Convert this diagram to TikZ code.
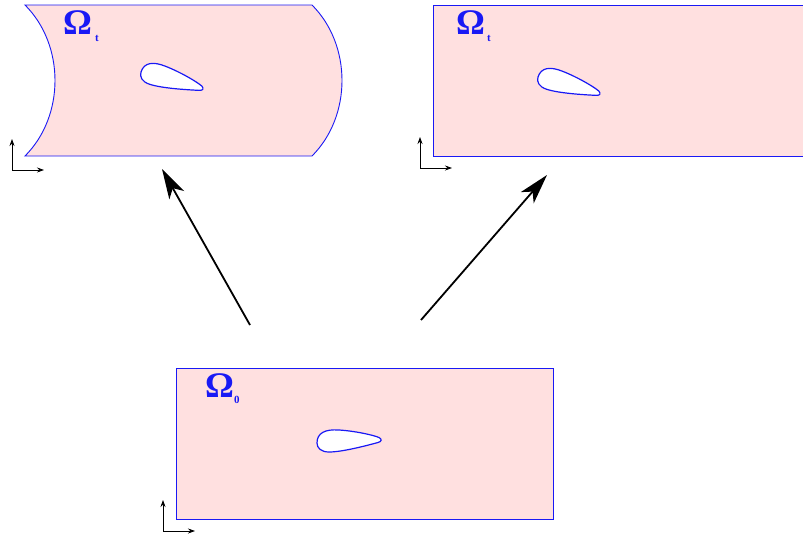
\documentclass[tikz,border=0pt]{standalone}
\usepackage{fontspec}
\setmainfont{Liberation Serif}
\usetikzlibrary{arrows.meta}
\definecolor{dompink}{RGB}{255,224,224}
\definecolor{domblue}{RGB}{25,25,245}
\begin{document}
\begin{tikzpicture}[x=1pt,y=-1pt,
  flowregion/.style={fill=dompink,draw=domblue,line width=0.9pt},
  holeshape/.style={fill=white,draw=domblue,line width=1.2pt},
  omegalabel/.style={text=domblue,font=\fontsize{36}{36}\selectfont\bfseries,inner sep=0pt,anchor=base west},
  subsclabel/.style={text=domblue,font=\fontsize{11}{11}\selectfont\bfseries,inner sep=0pt,anchor=base west},
  axisarrow/.style={-{Stealth[length=7pt,width=5pt]},line width=0.8pt},
  bigarrow/.style={-{Stealth[length=30pt,width=17pt,inset=8pt]},line width=1.8pt},
  wingprofile/.pic={\draw[holeshape] (0,0) .. controls (0,-10) and (8,-14) .. (22,-13)
    .. controls (38,-12) and (56,-8) .. (62,-5.5)
    .. controls (65,-4) and (65,-1.5) .. (61,-0.5)
    .. controls (48,3) and (25,9) .. (12,9)
    .. controls (4,9) and (0,5) .. (0,0) -- cycle;}]
\useasboundingbox (0,0) rectangle (803,538);

% left (deformed) domain
\path[flowregion] (25,5) -- (312,5) .. controls (352,45) and (352,116) .. (312,156)
  -- (25,156) .. controls (65,116) and (65,45) .. (25,5) -- cycle;
\pic (afl) [rotate=-18] at (141,72) {wingprofile};
\node[omegalabel] (oml) at (63,34) {Ω};
\node[subsclabel] (sl) at (95,41) {t};

% right domain
\path[flowregion] (433,5) rectangle (810,156);
\pic (afr) [rotate=-18] at (538,77) {wingprofile};
\node[omegalabel] (omr) at (456,34) {Ω};
\node[subsclabel] (sr) at (487,41) {t};

% bottom (reference) domain
\path[flowregion] (176,368) rectangle (553,519);
\pic (afb) at (317,443) {wingprofile};
\node[omegalabel] (omb) at (205,397) {Ω};
\node[subsclabel] (sb) at (234,403) {0};

% axes
\coordinate (o1) at (12,170); \coordinate (o1x) at (44,170); \coordinate (o1y) at (12,139);
\coordinate (o2) at (420,168); \coordinate (o2x) at (452,168); \coordinate (o2y) at (420,137);
\coordinate (o3) at (163,531); \coordinate (o3x) at (195,531); \coordinate (o3y) at (163,500);
\draw[axisarrow] (o1) -- (o1x); \draw[axisarrow] (o1) -- (o1y);
\draw[axisarrow] (o2) -- (o2x); \draw[axisarrow] (o2) -- (o2y);
\draw[axisarrow] (o3) -- (o3x); \draw[axisarrow] (o3) -- (o3y);

% mapping arrows
\coordinate (a1s) at (250,325); \coordinate (a1e) at (162,169);
\coordinate (a2s) at (421,320); \coordinate (a2e) at (547,175);
\draw[bigarrow] (a1s) -- (a1e);
\draw[bigarrow] (a2s) -- (a2e);
\end{tikzpicture}
\end{document}
